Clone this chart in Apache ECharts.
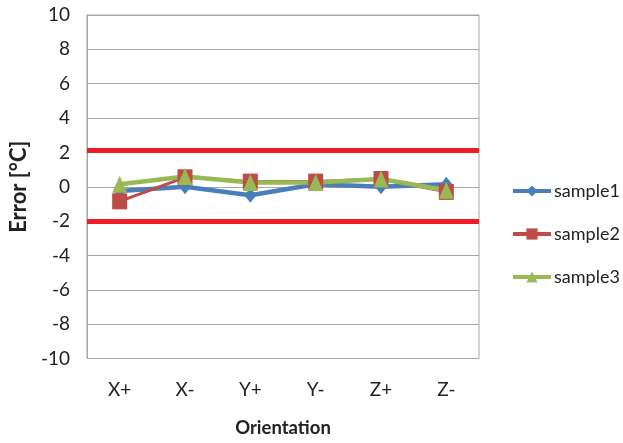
<!DOCTYPE html>
<html><head><meta charset="utf-8">
<script src="https://cdn.jsdelivr.net/npm/echarts@6/dist/echarts.min.js"></script>
<style>html,body{margin:0;padding:0;background:#fff}#c{width:623px;height:443px}</style>
</head><body><div id="c"></div>
<script>
const categories = ['X+', 'X-', 'Y+', 'Y-', 'Z+', 'Z-'];
const sample1 = [-0.25, 0.0, -0.5, 0.15, 0.0, 0.15];
const sample2 = [-0.85, 0.55, 0.3, 0.3, 0.45, -0.3];
const sample3 = [0.15, 0.6, 0.25, 0.25, 0.45, -0.2];
const limits = [2.1, -2];
const yTicks = { min: -10, max: 10, interval: 2 };

const font = 'Lato, "Open Sans", sans-serif';
const chart = echarts.init(document.getElementById('c'));
chart.setOption({
  animation: false,
  backgroundColor: '#fff',
  grid: { left: 82, right: 144, top: 15, bottom: 81, show: true, borderColor: '#a6a6a6', borderWidth: 1 },
  legend: {
    orient: 'vertical', left: 506, top: 177, itemWidth: 38, itemHeight: 14, itemGap: 25,
    lineStyle: { width: 4 },
    textStyle: { fontFamily: font, fontSize: 18, lineHeight: 18, color: '#222', padding: [0, 0, 0, -2] },
    data: ['sample1', 'sample2', 'sample3']
  },
  xAxis: {
    type: 'category', data: categories, boundaryGap: true,
    axisLine: { lineStyle: { color: '#a6a6a6' } }, axisTick: { show: false },
    axisLabel: { fontFamily: font, fontSize: 19, color: '#222', margin: 22 },
    name: 'Orientation', nameLocation: 'middle', nameGap: 70,
    nameTextStyle: { fontFamily: font, fontSize: 18.5, fontWeight: 'bold', color: '#222', verticalAlign: 'middle' }
  },
  yAxis: {
    type: 'value', min: yTicks.min, max: yTicks.max, interval: yTicks.interval,
    axisLine: { show: true, lineStyle: { color: '#a6a6a6' } }, axisTick: { show: false },
    splitLine: { lineStyle: { color: '#a6a6a6', width: 1 } },
    axisLabel: { fontFamily: font, fontSize: 19, color: '#222', margin: 17 },
    name: 'Error [°C]', nameLocation: 'middle', nameGap: 58, nameRotate: 90,
    nameTextStyle: { fontFamily: font, fontSize: 22, fontWeight: 'bold', color: '#222', verticalAlign: 'middle' }
  },
  series: [
    { name: 'sample1', type: 'line', data: sample1, symbol: 'diamond', symbolSize: [12, 15],
      itemStyle: { color: '#4a7ebb' }, lineStyle: { width: 4.5, color: '#4a7ebb' },
      markLine: { silent: true, symbol: 'none', label: { show: false },
        lineStyle: { color: '#ee1c24', width: 5, type: 'solid' },
        data: limits.map(v => ({ yAxis: v })) } },
    { name: 'sample2', type: 'line', data: sample2, symbol: 'rect', symbolSize: [15, 16],
      itemStyle: { color: '#be4b48' }, lineStyle: { width: 3, color: '#be4b48' } },
    { name: 'sample3', type: 'line', data: sample3, symbol: 'triangle', symbolSize: [15, 17],
      itemStyle: { color: '#98b954' }, lineStyle: { width: 4.5, color: '#98b954' } }
  ]
});
</script></body></html>
